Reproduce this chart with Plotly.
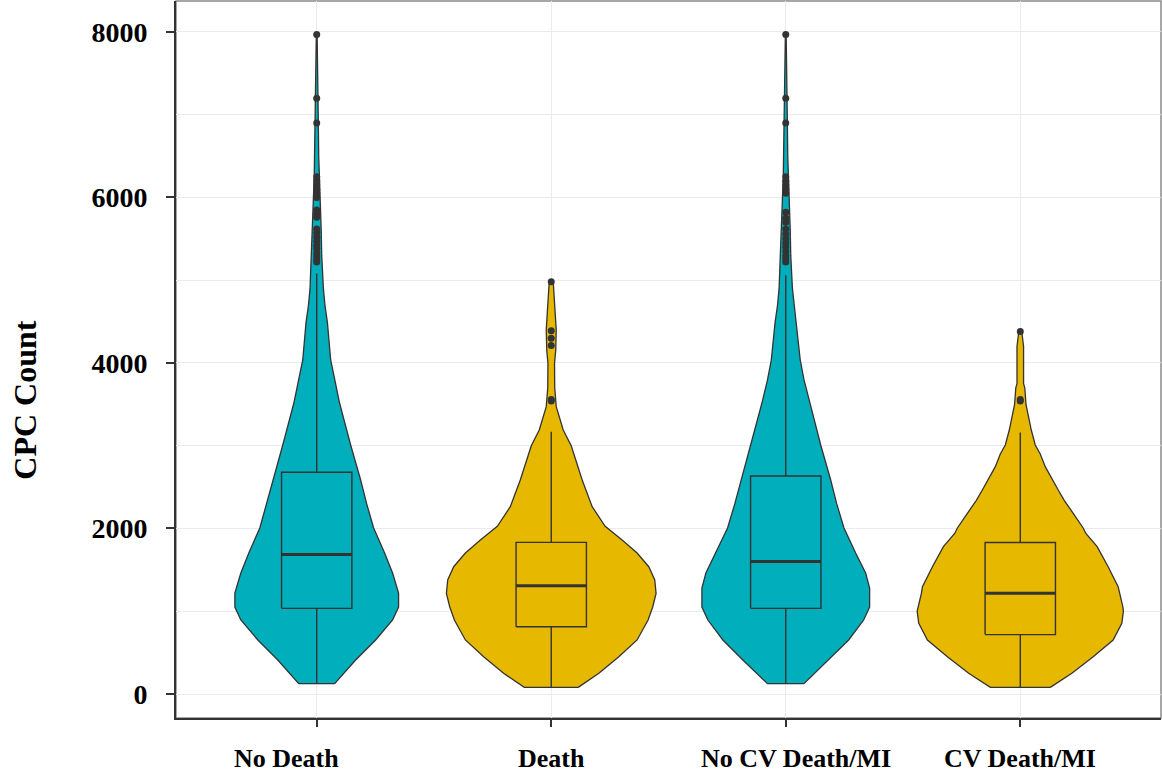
import plotly.graph_objects as go

# ---------------- data ----------------
categories = ["No Death", "Death", "No CV Death/MI", "CV Death/MI"]
positions = [1, 2, 3, 4]
fill_colors = ["#00AFBB", "#E7B800", "#00AFBB", "#E7B800"]

# violin density profiles (y value -> relative density)
v1_y = [125, 250, 411, 653, 894, 1051, 1220, 1462, 1704, 2006, 2300, 2586, 3009, 3510, 3795, 4036,
        4490, 4694, 4898, 5061, 5300, 5600, 5800, 6000, 6250, 6500, 7000, 7370, 7500, 7970]
v1_d = [18, 27, 39, 59, 76, 82, 82, 76, 68, 57, 50, 44, 34, 23, 18, 14,
        10.7, 8.3, 6.7, 6, 5, 4.5, 4, 3.3, 2.5, 2, 1.5, 1.3, 0.8, 0.4]

v2_y = [80, 250, 451, 653, 894, 1055, 1216, 1378, 1538, 1704, 1861, 2026, 2264, 2586, 3000, 3190,
        3472, 3700, 4000, 4150, 4400, 4600, 4800, 4980]
v2_d = [27, 47.7, 67.7, 86, 97, 101.7, 105, 103.7, 97.7, 86, 71, 54, 41, 31, 20, 12,
        5, 3.5, 3.3, 4.5, 5, 4, 3.3, 2]

v3_y = [125, 250, 411, 653, 894, 1051, 1280, 1462, 1704, 2006, 2300, 2586, 3009, 3510, 3795, 4036,
        4490, 4694, 4898, 5061, 5300, 5600, 5800, 6000, 6250, 6500, 7000, 7370, 7500, 7970]
v3_d = [18.3, 29, 43, 63, 78, 84, 84, 80, 70, 58.3, 51, 45, 35, 24, 18.3, 14.5,
        10.7, 8.3, 6.7, 6, 5, 4.5, 4, 3.3, 2.5, 2, 1.5, 1.3, 0.8, 0.4]

v4_y = [80, 250, 451, 653, 854, 1000, 1055, 1220, 1297, 1538, 1781, 1940, 2006, 2183, 2340, 2465,
        2747, 2900, 3009, 3190, 3500, 3700, 3750, 4000, 4200, 4380]
v4_d = [30, 51.7, 73, 93, 101.7, 103.3, 102.7, 99, 98, 88, 77, 65.7, 63, 53, 44, 38,
        25, 20, 15, 11, 5.7, 4.5, 3.3, 3.3, 3.3, 1.5]

violin_y = [v1_y, v2_y, v3_y, v4_y]
violin_d = [v1_d, v2_d, v3_d, v4_d]

# box statistics
q1 = [1035, 812, 1035, 718]
median = [1685, 1308, 1600, 1218]
q3 = [2680, 1832, 2634, 1830]
lower_fence = [125, 80, 125, 80]
upper_fence = [5080, 3170, 5060, 3160]

# outliers
out1 = [5220, 5250, 5290, 5330, 5380, 5420, 5470, 5520, 5570, 5620, 5760, 5800, 5850,
        6000, 6050, 6100, 6150, 6200, 6250, 6900, 7200, 7970]
out2 = [3540, 3560, 4210, 4300, 4390, 4980]
out3 = [5220, 5260, 5300, 5350, 5400, 5450, 5500, 5560, 5620, 5700, 5750, 5820,
        6050, 6100, 6150, 6200, 6250, 6900, 7200, 7970]
out4 = [3540, 3560, 4380]
outliers = [out1, out2, out3, out4]

y_ticks = [0, 2000, 4000, 6000, 8000]
label_shift = [-30, 0, 10, 0]   # horizontal offset of category labels (px)

# ---------------- figure ----------------
FONT = "Liberation Serif"
EDGE = "#333333"
DENS_SCALE = 0.447 / 105.0   # relative density -> half width in x units
BOX_WIDTH = 0.30

fig = go.Figure()

for i, pos in enumerate(positions):
    ys = violin_y[i]
    ds = violin_d[i]
    xr = [pos + d * DENS_SCALE for d in ds]
    xl = [pos - d * DENS_SCALE for d in ds][::-1]
    xs = xr + xl + [xr[0]]
    yy = ys + ys[::-1] + [ys[0]]
    fig.add_trace(go.Scatter(
        x=xs, y=yy, mode="lines", fill="toself", fillcolor=fill_colors[i],
        line=dict(color=EDGE, width=1.3), hoverinfo="skip", showlegend=False))

for i, pos in enumerate(positions):
    half = BOX_WIDTH / 2
    # whiskers
    fig.add_trace(go.Scatter(
        x=[pos, pos, None, pos, pos],
        y=[q3[i], upper_fence[i], None, q1[i], lower_fence[i]],
        mode="lines", line=dict(color=EDGE, width=1.4), showlegend=False, hoverinfo="skip"))
    # box
    fig.add_trace(go.Scatter(
        x=[pos - half, pos + half, pos + half, pos - half, pos - half],
        y=[q1[i], q1[i], q3[i], q3[i], q1[i]],
        mode="lines", fill="toself", fillcolor=fill_colors[i],
        line=dict(color=EDGE, width=1.4), showlegend=False, hoverinfo="skip"))
    # median (thicker, as in ggplot)
    fig.add_trace(go.Scatter(
        x=[pos - half, pos + half], y=[median[i], median[i]],
        mode="lines", line=dict(color=EDGE, width=3), showlegend=False, hoverinfo="skip"))
    # outliers
    fig.add_trace(go.Scatter(
        x=[pos] * len(outliers[i]), y=outliers[i], mode="markers",
        marker=dict(color=EDGE, size=7), showlegend=False, hoverinfo="skip"))

annotations = [dict(
    text="CPC Count", xref="paper", yref="paper", x=-0.153, y=0.443,
    textangle=-90, showarrow=False, xanchor="center", yanchor="middle",
    font=dict(family=FONT, size=32, color="black", weight="bold"))]
for i, pos in enumerate(positions):
    annotations.append(dict(
        text=categories[i], xref="x", yref="paper", x=pos, y=-0.0558,
        xshift=label_shift[i], showarrow=False, xanchor="center", yanchor="middle",
        font=dict(family=FONT, size=26, color="black", weight="bold")))

fig.update_layout(
    width=1162, height=775,
    margin=dict(l=176, r=1, t=1, b=57),
    paper_bgcolor="white", plot_bgcolor="white",
    showlegend=False,
    xaxis=dict(
        range=[0.4, 4.6], tickmode="array", tickvals=positions,
        ticktext=["" for _ in categories],
        showgrid=True, gridcolor="#EBEBEB", gridwidth=1.2, zeroline=False,
        showline=True, linecolor=EDGE, linewidth=2,
        ticks="outside", ticklen=7, tickwidth=1.5, tickcolor=EDGE,
    ),
    yaxis=dict(
        range=[-290, 8374], tickmode="array", tickvals=y_ticks,
        ticktext=[str(v) for v in y_ticks],
        showgrid=True, gridcolor="#EBEBEB", gridwidth=1.2, zeroline=False,
        minor=dict(dtick=1000, tick0=0, showgrid=True, gridcolor="#EBEBEB", gridwidth=1.2, ticks=""),
        showline=True, linecolor=EDGE, linewidth=2,
        ticks="outside", ticklen=8, tickwidth=1.5, tickcolor=EDGE,
        ticklabelstandoff=13,
        tickfont=dict(family=FONT, size=28, color="black", weight="bold"),
    ),
    shapes=[dict(type="rect", xref="paper", yref="paper", x0=0, x1=1, y0=0, y1=1,
                 line=dict(color="#8a8a8a", width=1.5), layer="below")],
    annotations=annotations,
)

fig.write_html("out.html")
